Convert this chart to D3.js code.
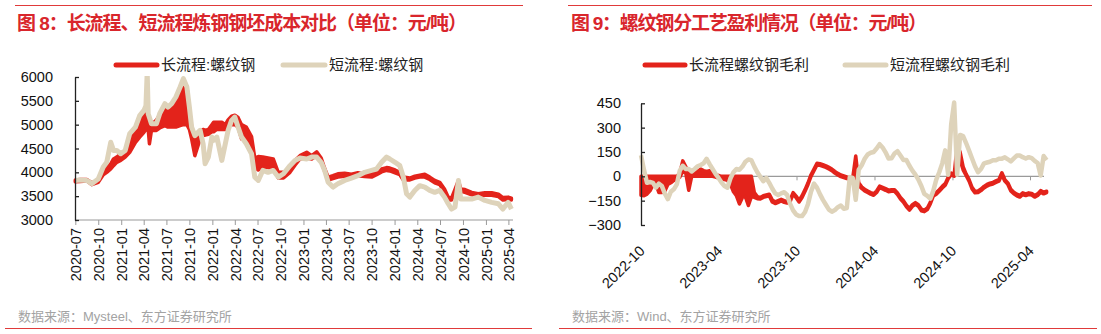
<!DOCTYPE html>
<html><head><meta charset="utf-8">
<script src="https://cdn.jsdelivr.net/npm/d3@7"></script>
<style>
body{margin:0;background:#fff}
svg{display:block}
text{font-family:"Liberation Sans",Arial,"Noto Sans CJK SC",sans-serif}
</style>
</head><body>
<svg id="c" width="1101" height="334"></svg>
<script>
// ---------------- LEFT CHART DATA (元/吨) ----------------
const leftDates = ["2020-07-01","2020-07-20","2020-08-16","2020-09-05","2020-10-01","2020-10-21","2020-11-04","2020-11-20","2020-12-01","2020-12-14",
"2020-12-30","2021-01-17","2021-02-04","2021-02-27","2021-03-16","2021-04-02","2021-04-10","2021-04-15","2021-04-19","2021-04-24",
"2021-05-02","2021-05-22","2021-06-04","2021-06-25","2021-07-07","2021-07-22","2021-08-08","2021-08-25","2021-09-07","2021-09-21",
"2021-10-01","2021-10-10","2021-10-23","2021-11-13","2021-11-25","2021-12-03","2021-12-16","2021-12-30","2022-01-06","2022-01-19",
"2022-02-08","2022-02-22","2022-03-05","2022-03-19","2022-04-01","2022-04-14","2022-04-28","2022-05-17","2022-06-07","2022-06-20",
"2022-07-04","2022-07-22","2022-08-12","2022-09-02","2022-09-22","2022-10-13","2022-11-08","2022-11-28","2022-12-18","2023-01-14",
"2023-02-03","2023-02-23","2023-03-13","2023-03-27","2023-04-10","2023-04-29","2023-05-19","2023-06-15","2023-07-12","2023-08-07",
"2023-09-03","2023-10-01","2023-10-21","2023-11-10","2023-11-30","2023-12-13","2024-01-03","2024-01-22","2024-02-05","2024-02-18",
"2024-03-02","2024-03-22","2024-04-11","2024-05-01","2024-05-21","2024-06-10","2024-06-30","2024-07-19","2024-08-03","2024-08-16",
"2024-08-30","2024-09-13","2024-09-22","2024-10-09","2024-11-05","2024-12-01","2024-12-28","2025-01-24","2025-02-20","2025-03-10",
"2025-03-31","2025-04-13"];
// 短流程:螺纹钢
const leftShort = [3830,3840,3830,3760,3860,4110,4210,4630,4460,4460,
4390,4460,4810,4950,5190,5300,5400,6100,5230,5150,
5020,5020,5230,5440,5370,5440,5580,5790,5965,5790,
5370,4950,4770,4880,4600,4180,4320,4740,4670,4740,
4250,4600,4880,5090,5160,4950,4740,4600,4390,3900,
3830,4040,4000,4040,3900,3970,4140,4250,4300,4280,
4320,4320,4210,4040,3790,3690,3760,3830,3880,3930,
4000,4040,4070,4210,4320,4280,4210,4140,3900,3550,
3480,3620,3720,3690,3620,3580,3620,3480,3340,3230,
3270,3830,3440,3440,3440,3480,3410,3370,3340,3230,
3370,3230];
// 长流程:螺纹钢 (low / high of the daily range)
const leftLongLo = [3800,3810,3820,3740,3790,3950,4000,4070,4140,4210,
4250,4320,4420,4630,4740,4840,4900,4950,4900,4600,
4880,4880,4930,4980,4950,4950,4950,4980,5000,5000,
4900,4700,4350,4700,4780,4780,4800,4850,4850,4900,
4900,4900,4950,5000,5000,4950,4700,4700,4450,4100,
4050,4100,4100,4080,3880,3880,4000,4150,4280,4300,
4280,4350,4230,4020,3840,3870,3900,3920,3910,3930,
3910,3900,3950,4010,4040,4030,3990,3950,3840,3840,
3840,3880,3900,3900,3850,3780,3740,3600,3420,3420,
3580,3720,3600,3580,3530,3500,3520,3520,3490,3420,
3430,3420];
const leftLongHi = [3840,3850,3850,3780,3840,4030,4100,4180,4280,4320,
4390,4460,4770,4910,5160,5260,5300,5500,5200,5100,
5000,5100,5200,5300,5350,5400,5450,5650,5850,5800,
5350,4950,4750,4850,4900,4880,4900,5000,5050,5050,
5050,5000,5100,5180,5200,5150,5000,4950,4750,4300,
4330,4320,4300,4280,4000,4000,4100,4250,4350,4420,
4350,4430,4300,4080,3900,3930,3970,3980,3960,3990,
3960,3960,4000,4070,4100,4090,4050,4000,3900,3890,
3880,3920,3940,3960,3900,3830,3790,3650,3480,3460,
3640,3830,3650,3640,3580,3550,3570,3570,3540,3470,
3480,3460];
const leftYTicks = [3000,3500,4000,4500,5000,5500,6000];
const leftXTicks = ["2020-07","2020-10","2021-01","2021-04","2021-07","2021-10","2022-01","2022-04","2022-07","2022-10",
"2023-01","2023-04","2023-07","2023-10","2024-01","2024-04","2024-07","2024-10","2025-01","2025-04"];

// ---------------- RIGHT CHART DATA (元/吨) ----------------
const rightDates = ["2022-10-01","2022-10-08","2022-10-15","2022-10-22","2022-10-29","2022-11-05","2022-11-12","2022-11-19","2022-11-26","2022-12-03",
"2022-12-10","2022-12-17","2022-12-24","2022-12-31","2023-01-07","2023-01-14","2023-01-21","2023-01-28","2023-02-04","2023-02-11",
"2023-02-18","2023-02-25","2023-03-04","2023-03-11","2023-03-18","2023-03-25","2023-04-01","2023-04-08","2023-04-15","2023-04-22",
"2023-04-29","2023-05-06","2023-05-13","2023-05-20","2023-05-27","2023-06-03","2023-06-10","2023-06-17","2023-06-24","2023-07-01",
"2023-07-08","2023-07-15","2023-07-22","2023-07-29","2023-08-05","2023-08-12","2023-08-19","2023-08-26","2023-09-02","2023-09-09",
"2023-09-16","2023-09-23","2023-09-30","2023-10-07","2023-10-14","2023-10-21","2023-10-28","2023-11-04","2023-11-11","2023-11-18",
"2023-11-25","2023-12-02","2023-12-09","2023-12-16","2023-12-23","2023-12-30","2024-01-06","2024-01-13","2024-01-20","2024-01-27",
"2024-02-03","2024-02-10","2024-02-17","2024-02-24","2024-03-02","2024-03-09","2024-03-16","2024-03-23","2024-03-30","2024-04-06",
"2024-04-13","2024-04-20","2024-04-27","2024-05-04","2024-05-11","2024-05-18","2024-05-25","2024-06-01","2024-06-08","2024-06-15",
"2024-06-22","2024-06-29","2024-07-06","2024-07-13","2024-07-20","2024-07-27","2024-08-03","2024-08-10","2024-08-17","2024-08-24",
"2024-08-31","2024-09-07","2024-09-14","2024-09-21","2024-09-28","2024-10-05","2024-10-12","2024-10-19","2024-10-26","2024-11-02",
"2024-11-09","2024-11-16","2024-11-23","2024-11-30","2024-12-07","2024-12-14","2024-12-21","2024-12-28","2025-01-04","2025-01-11",
"2025-01-18","2025-01-25","2025-02-01","2025-02-08","2025-02-15","2025-02-22","2025-03-01","2025-03-08","2025-03-15","2025-03-22",
"2025-03-29","2025-04-05","2025-04-12","2025-04-19","2025-04-26","2025-05-03","2025-05-10"];
// 短流程螺纹钢毛利
const rightShort = [130,40,-40,-35,-40,-70,-45,-60,-107,-140,
-95,-80,-50,35,65,45,45,30,45,62,
70,80,108,75,45,15,-10,-38,-60,-70,
-12,25,45,40,60,90,104,100,60,25,
-3,-30,-10,-40,-75,-105,-115,-105,-98,-115,
-170,-210,-235,-245,-245,-220,-170,-95,-45,-70,
-110,-145,-175,-205,-218,-208,-190,-180,-200,-195,
-5,-10,-145,40,68,108,135,145,150,171,
198,178,148,110,112,140,155,128,100,100,
65,35,10,-20,-60,-108,-120,-138,-90,-20,
25,80,160,10,320,455,10,255,248,205,
158,110,62,25,45,80,85,90,99,99,
108,109,117,105,92,110,128,128,118,110,
118,112,95,82,5,125,100];
// 长流程螺纹钢毛利 (low / high of the daily range)
const rightLongLo = [-117,-120,-110,-90,-55,-50,-100,-100,-90,-50,
-40,-25,-15,-5,30,20,-86,0,0,0,
0,0,0,0,0,-5,-10,-15,-20,-25,
-50,-95,-120,-170,-130,-125,-180,-125,-130,-138,
-140,-130,-125,-120,-158,-168,-160,-152,-160,-165,
-155,-110,-132,-158,-130,-92,-50,0,35,70,
68,62,55,45,35,20,8,-2,-8,-14,
-16,-18,0,-55,-75,-90,-100,-110,-117,-100,
-70,-78,-86,-95,-92,-92,-112,-140,-160,-188,
-208,-185,-172,-185,-212,-218,-205,-170,-122,-110,
-92,-72,-55,-15,10,0,120,100,40,5,
-30,-78,-102,-100,-88,-72,-60,-52,-47,-38,
-30,10,-30,-50,-90,-108,-120,-128,-112,-118,
-112,-115,-128,-118,-98,-108,-100];
const rightLongHi = [0,0,0,0,0,0,0,0,0,0,
0,0,0,20,95,60,20,35,40,30,
45,35,30,35,20,10,5,0,0,0,
0,0,0,0,0,0,0,0,-100,-125,
-130,-120,-115,-110,-145,-158,-150,-142,-150,-155,
-145,-100,-122,-148,-120,-82,-40,10,45,80,
78,72,65,55,45,30,18,8,2,-4,
-6,-8,125,-40,-65,-80,-90,-100,-107,-90,
-60,-68,-76,-85,-82,-82,-102,-130,-150,-178,
-198,-175,-162,-175,-202,-208,-195,-160,-112,-100,
-82,-62,-45,-5,20,10,190,150,60,15,
-20,-68,-92,-90,-78,-62,-50,-42,-37,-28,
-20,22,-20,-40,-80,-98,-110,-118,-102,-108,
-102,-105,-118,-108,-88,-98,-92];
const rightYTicks = [-300,-150,0,150,300,450];
const rightXTicks = ["2022-10","2023-04","2023-10","2024-04","2024-10","2025-04"];

// ---------------- DRAWING ----------------
const RED = "#e3231b", BEIGE = "#ded3ba", FRAME = "#e03a3a", TITLE = "#d9262c";
const parseDay = d3.timeParse("%Y-%m-%d");
const parseMonth = d3.timeParse("%Y-%m");
const svg = d3.select("#c");

function frame(x0, x1, titleX, title, titleLen, source, bx0, bx1) {
  svg.append("line").attr("x1", x0).attr("x2", x1).attr("y1", 5.5).attr("y2", 5.5)
    .attr("stroke", FRAME).attr("stroke-width", 1.2);
  svg.append("text").attr("x", titleX).attr("y", 30).attr("fill", TITLE)
    .attr("font-size", 19).attr("font-weight", "bold")
    .attr("textLength", titleLen).attr("lengthAdjust", "spacing").text(title);
  svg.append("text").attr("x", titleX + 1).attr("y", 321).attr("fill", "#a3a3a3")
    .attr("font-size", 13).text(source);
  svg.append("line").attr("x1", bx0).attr("x2", bx1).attr("y1", 328.5).attr("y2", 328.5)
    .attr("stroke", FRAME).attr("stroke-width", 1.2);
}

function legendItem(x0, x1, label, color) {
  svg.append("line").attr("x1", x0).attr("x2", x1).attr("y1", 65).attr("y2", 65)
    .attr("stroke", color).attr("stroke-width", 5).attr("stroke-linecap", "round");
  svg.append("text").attr("x", x1 + 4).attr("y", 65).attr("dy", "0.36em")
    .attr("font-size", 15).attr("fill", "#222").text(label);
}

// ===== LEFT =====
frame(15, 523, 17, "图 8：长流程、短流程炼钢钢坯成本对比（单位：元/吨）", 450,
  "数据来源：Mysteel、东方证券研究所", 5, 532);
legendItem(116, 157, "长流程:螺纹钢", RED);
legendItem(283, 325, "短流程:螺纹钢", BEIGE);

{
  const x = d3.scaleTime().domain([parseDay("2020-07-01"), parseDay("2025-04-01")]).range([75.3, 508.4]);
  const y = d3.scaleLinear().domain([3000, 6000]).range([220, 77]);
  const g = svg.append("g");
  g.append("clipPath").attr("id", "clipL").append("rect")
    .attr("x", 70).attr("y", 76).attr("width", 450).attr("height", 150);
  const pts = leftDates.map((d, i) => ({ d: parseDay(d), s: leftShort[i], lo: leftLongLo[i], hi: leftLongHi[i] }));
  const plot = g.append("g").attr("clip-path", "url(#clipL)");
  plot.append("path").datum(pts)
    .attr("d", d3.area().x(p => x(p.d)).y0(p => y(p.lo)).y1(p => y(p.hi)))
    .attr("fill", RED).attr("stroke", RED).attr("stroke-width", 3.5).attr("stroke-linejoin", "round");
  plot.append("path").datum(pts)
    .attr("d", d3.line().x(p => x(p.d)).y(p => y(p.s)))
    .attr("fill", "none").attr("stroke", BEIGE).attr("stroke-width", 5).attr("stroke-linejoin", "round");

  // x axis
  const xa = g.append("g").attr("transform", "translate(0,220)")
    .call(d3.axisBottom(x).tickValues(leftXTicks.map(parseMonth)).tickSize(5).tickSizeOuter(0)
      .tickFormat(d3.timeFormat("%Y-%m")));
  xa.select(".domain").remove();
  xa.selectAll(".tick line").attr("stroke", "#9a9a9a");
  xa.selectAll("text").attr("transform", "rotate(-90)").attr("x", -8).attr("y", 0)
    .attr("dy", "0.36em").style("text-anchor", "end").attr("font-size", 14.5).attr("fill", "#111");
  g.append("line").attr("x1", 75).attr("x2", 513).attr("y1", 220).attr("y2", 220)
    .attr("stroke", "#9a9a9a").attr("stroke-width", 1.2);

  // y axis
  const ya = g.append("g").attr("transform", "translate(75,0)")
    .call(d3.axisLeft(y).tickValues(leftYTicks).tickSize(-4).tickSizeOuter(0).tickPadding(22)
      .tickFormat(d3.format("d")));
  ya.select(".domain").attr("stroke", "#222").attr("stroke-width", 1.3);
  ya.selectAll(".tick line").attr("stroke", "#222").attr("stroke-width", 1.3);
  ya.selectAll("text").attr("font-size", 14.5).attr("fill", "#111");
}

// ===== RIGHT =====
frame(568, 1092, 571, "图 9：螺纹钢分工艺盈利情况（单位：元/吨）", 356,
  "数据来源：Wind、东方证券研究所", 559, 1097);
legendItem(645, 685, "长流程螺纹钢毛利", RED);
legendItem(845, 886, "短流程螺纹钢毛利", BEIGE);

{
  const x = d3.scaleTime().domain([parseDay("2022-10-01"), parseDay("2025-04-01")]).range([641, 1030]);
  const y = d3.scaleLinear().domain([-300, 450]).range([225, 103.3]);
  const g = svg.append("g");
  const pts = rightDates.map((d, i) => ({ d: parseDay(d), s: rightShort[i], lo: rightLongLo[i], hi: rightLongHi[i] }));

  // zero line with ticks
  g.append("line").attr("x1", 641).attr("x2", 1044).attr("y1", y(0)).attr("y2", y(0))
    .attr("stroke", "#9a9a9a").attr("stroke-width", 1.2);
  const xa = g.append("g").attr("transform", `translate(0,${y(0)})`)
    .call(d3.axisBottom(x).tickValues(rightXTicks.map(parseMonth)).tickSize(4).tickSizeOuter(0).tickFormat(""));
  xa.select(".domain").remove();
  xa.selectAll(".tick line").attr("stroke", "#9a9a9a");

  g.append("path").datum(pts)
    .attr("d", d3.area().x(p => x(p.d)).y0(p => y(p.lo)).y1(p => y(p.hi)))
    .attr("fill", RED).attr("stroke", RED).attr("stroke-width", 3.5).attr("stroke-linejoin", "round");
  g.append("path").datum(pts)
    .attr("d", d3.line().x(p => x(p.d)).y(p => y(p.s)))
    .attr("fill", "none").attr("stroke", BEIGE).attr("stroke-width", 4.5).attr("stroke-linejoin", "round");

  // bottom labels
  const fmt = d3.timeFormat("%Y-%m");
  g.selectAll("text.xl").data(rightXTicks.map(parseMonth)).enter().append("text")
    .attr("class", "xl")
    .attr("transform", d => `translate(${x(d) + 1},${248}) rotate(-45)`)
    .attr("text-anchor", "end").attr("dy", "0.36em")
    .attr("font-size", 14.5).attr("fill", "#111").text(fmt);

  // y axis
  const ya = g.append("g").attr("transform", "translate(641,0)")
    .call(d3.axisLeft(y).tickValues(rightYTicks).tickSize(-4).tickSizeOuter(0).tickPadding(20)
      .tickFormat(d3.format("d")));
  ya.select(".domain").attr("stroke", "#222").attr("stroke-width", 1.3);
  ya.selectAll(".tick line").attr("stroke", "#222").attr("stroke-width", 1.3);
  ya.selectAll("text").attr("font-size", 14.5).attr("fill", "#111");
}
</script>
</body></html>
